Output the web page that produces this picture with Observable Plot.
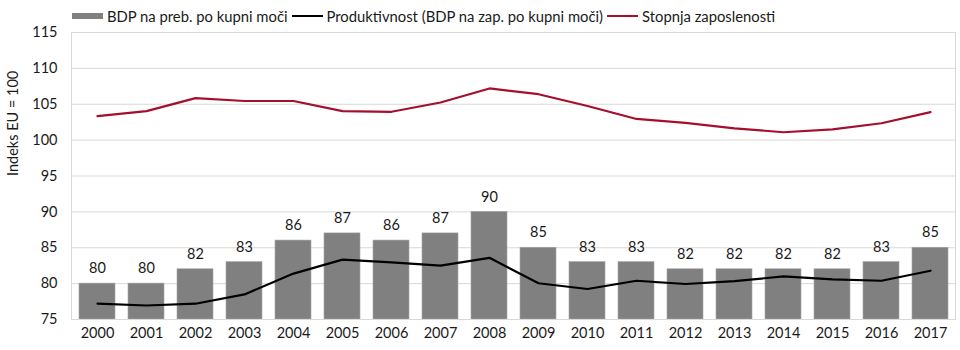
<!DOCTYPE html>
<html>
<head>
<meta charset="utf-8">
<script src="https://cdn.jsdelivr.net/npm/d3@7"></script>
<script src="https://cdn.jsdelivr.net/npm/@observablehq/plot@0.6"></script>
<style>
  html, body { margin: 0; padding: 0; background: #fff; }
  #wrap { position: relative; width: 960px; height: 350px; font-family: Lato, sans-serif; }
  #legend { position: absolute; top: 7px; left: 72px; display: flex; align-items: center; font-size: 14.8px; color: #1a1a1a; white-space: nowrap; }
  .sw { display: inline-block; width: 31px; margin-right: 4px; }
  .item { display: flex; align-items: center; margin-right: 4px; }
</style>
</head>
<body>
<div id="wrap">
  <div id="legend"></div>
  <div id="chart"></div>
</div>
<script>
const years = ["2000","2001","2002","2003","2004","2005","2006","2007","2008","2009","2010","2011","2012","2013","2014","2015","2016","2017"];
const bdp = [80,80,82,83,86,87,86,87,90,85,83,83,82,82,82,82,83,85];
const produktivnost = [77.2,76.95,77.2,78.5,81.4,83.35,82.95,82.5,83.6,80.05,79.25,80.4,79.95,80.35,81.0,80.6,80.4,81.8];
const zaposlenost = [103.35,104.05,105.85,105.45,105.45,104.05,103.95,105.25,107.2,106.4,104.75,102.95,102.4,101.65,101.1,101.5,102.35,103.9];
const yTicks = [75,80,85,90,95,100,105,110,115];
const legendLabels = ["BDP na preb. po kupni moči", "Produktivnost (BDP na zap. po kupni moči)", "Stopnja zaposlenosti"];

const GRAY = "#808080", BLACK = "#000000", RED = "#a50f2d";

const rows = years.map((y, i) => ({year: y, bdp: bdp[i], prod: produktivnost[i], zap: zaposlenost[i]}));

const legend = document.getElementById("legend");
[[GRAY, "bar"], [BLACK, "line"], [RED, "line"]].forEach(([c, kind], i) => {
  const it = document.createElement("span");
  it.className = "item";
  const sw = document.createElement("span");
  sw.className = "sw";
  sw.style.background = c;
  sw.style.height = kind === "bar" ? "6px" : "2px";
  it.appendChild(sw);
  it.appendChild(document.createTextNode(legendLabels[i]));
  legend.appendChild(it);
});

const chart = Plot.plot({
  width: 960,
  height: 350,
  marginTop: 32,
  marginBottom: 31,
  marginLeft: 71,
  marginRight: 5,
  style: {fontFamily: "Lato, sans-serif", fontSize: "14.5px", color: "#1a1a1a", background: "#fff"},
  x: {domain: years, paddingInner: 0.27, paddingOuter: 0.135, label: null, tickSize: 0, tickPadding: 8},
  y: {domain: [75, 115], ticks: yTicks, label: null, tickSize: 0, tickPadding: 14, grid: false},
  marks: [
    Plot.ruleY(yTicks, {stroke: "#d9d9d9", strokeWidth: 1}),
    Plot.barY(rows, {x: "year", y1: 75, y2: "bdp", fill: GRAY, stroke: "#a6a6a6", strokeWidth: 0.6}),
    Plot.text(rows, {x: "year", y: "bdp", text: d => String(d.bdp), dy: -15, fill: "#1a1a1a", fontSize: 14.5}),
    Plot.line(rows, {x: "year", y: "prod", stroke: BLACK, strokeWidth: 2.2}),
    Plot.line(rows, {x: "year", y: "zap", stroke: RED, strokeWidth: 2.2}),
    Plot.frame({stroke: "#d9d9d9", strokeWidth: 1}),
    Plot.axisY({ticks: yTicks, tickSize: 0, tickPadding: 14, label: null}),
    Plot.axisX({tickSize: 0, tickPadding: 8, label: null}),
    Plot.text(["Indeks EU = 100"], {frameAnchor: "left", dx: -58, rotate: -90, fontSize: 14.5, fill: "#1a1a1a"})
  ]
});
document.getElementById("chart").appendChild(chart);
</script>
</body>
</html>
